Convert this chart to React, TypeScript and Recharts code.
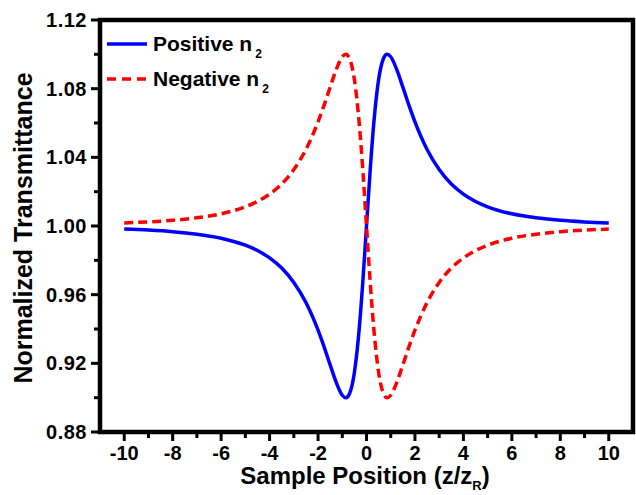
import { LineChart, Line, XAxis, YAxis, ReferenceArea, Legend } from 'recharts'

// sample position z/zR
const zPos = [
  -10, -9, -8, -7, -6, -5, -4.5, -4, -3.5, -3, -2.5, -2, -1.75, -1.5, -1.25, -1, -0.85, -0.7, -0.5, -0.3,
  -0.15, 0, 0.15, 0.3, 0.5, 0.7, 0.85, 1, 1.25, 1.5, 1.75, 2, 2.5, 3, 3.5, 4, 4.5, 5, 6, 7, 8, 9, 10,
]

// normalized transmittance, positive n2 (valley then peak)
const posN2 = [
  0.9982, 0.9976, 0.9967, 0.9952, 0.9929, 0.9888, 0.9857, 0.9814, 0.9755, 0.9671, 0.9554, 0.9393, 0.9296,
  0.9191, 0.9089, 0.9014, 0.8999, 0.9024, 0.9147, 0.9403, 0.9679, 1.0, 1.0321, 1.0597, 1.0853, 1.0976,
  1.1001, 1.0986, 1.0911, 1.0809, 1.0704, 1.0607, 1.0446, 1.0329, 1.0245, 1.0186, 1.0143, 1.0112, 1.0071,
  1.0048, 1.0033, 1.0024, 1.0018,
]

// normalized transmittance, negative n2 (peak then valley)
const negN2 = [
  1.0018, 1.0024, 1.0033, 1.0048, 1.0071, 1.0112, 1.0143, 1.0186, 1.0245, 1.0329, 1.0446, 1.0607, 1.0704,
  1.0809, 1.0911, 1.0986, 1.1001, 1.0976, 1.0853, 1.0597, 1.0321, 1.0, 0.9679, 0.9403, 0.9147, 0.9024,
  0.8999, 0.9014, 0.9089, 0.9191, 0.9296, 0.9393, 0.9554, 0.9671, 0.9755, 0.9814, 0.9857, 0.9888, 0.9929,
  0.9952, 0.9967, 0.9976, 0.9982,
]

const xTicks = [-10, -9, -8, -7, -6, -5, -4, -3, -2, -1, 0, 1, 2, 3, 4, 5, 6, 7, 8, 9, 10]
const yTicks = [0.88, 0.9, 0.92, 0.94, 0.96, 0.98, 1.0, 1.02, 1.04, 1.06, 1.08, 1.1, 1.12]

const data = zPos.map((z, i) => ({ z, pos: posN2[i], neg: negN2[i] }))

const FONT = '"Liberation Sans", Arial, sans-serif'
const FRAME = 4.5

function XTick({ x, y, payload }: any) {
  const v = payload.value
  const major = Math.round(v) % 2 === 0
  return (
    <g>
      <rect x={x - 1.5} y={y} width={3} height={major ? 9 : 6} fill="#000" />
      {major && (
        <text x={x} y={y + 21} dy="0.355em" textAnchor="middle" fontFamily={FONT} fontWeight="bold" fontSize={20} fill="#000" stroke="none">
          {v}
        </text>
      )}
    </g>
  )
}

function YTick({ x, y, payload }: any) {
  const v = payload.value
  const major = Math.round(v * 100) % 4 === 0
  const len = major ? 9 : 6
  return (
    <g>
      <rect x={x - len} y={y - 1.5} width={len} height={3} fill="#000" />
      {major && (
        <text x={x - 13} y={y} dy="0.355em" textAnchor="end" fontFamily={FONT} fontWeight="bold" fontSize={20} letterSpacing={0.5} fill="#000" stroke="none">
          {v.toFixed(2)}
        </text>
      )}
    </g>
  )
}

function LegendBox() {
  const row = { display: 'flex', alignItems: 'center', height: 35 }
  const txt = { fontFamily: FONT, fontWeight: 'bold' as const, fontSize: 21, color: '#000', marginLeft: 6, whiteSpace: 'nowrap' as const }
  const sub = { fontSize: 12, position: 'relative' as const, top: 7, marginLeft: 3 }
  return (
    <div>
      <div style={row}>
        <svg width={40} height={10}>
          <line x1={0} y1={5} x2={40} y2={5} stroke="#0000ff" strokeWidth={3.5} />
        </svg>
        <span style={txt}>
          Positive n<span style={sub}>2</span>
        </span>
      </div>
      <div style={row}>
        <svg width={40} height={10}>
          <line x1={0} y1={5} x2={40} y2={5} stroke="#ff0000" strokeWidth={3.5} strokeDasharray="9 6" />
        </svg>
        <span style={txt}>
          Negative n<span style={sub}>2</span>
        </span>
      </div>
    </div>
  )
}

export default function App() {
  return (
    <div style={{ position: 'absolute', left: 0, top: 0, width: 636, height: 495, background: '#fff' }}>
      <LineChart width={636} height={495} data={data} margin={{ top: 20, right: 3, bottom: 0, left: 0 }}>
        <XAxis
          dataKey="z"
          type="number"
          domain={[-11, 11]}
          ticks={xTicks}
          interval={0}
          height={63}
          tickLine={false}
          tickSize={0}
          tickMargin={0}
          axisLine={false}
          tick={<XTick />}
        />
        <YAxis
          type="number"
          domain={[0.88, 1.12]}
          ticks={yTicks}
          interval={0}
          width={100}
          tickLine={false}
          tickSize={0}
          tickMargin={0}
          axisLine={false}
          tick={<YTick />}
        />
        {/* plot frame */}
        <ReferenceArea
          x1={-11}
          x2={11}
          y1={0.88}
          y2={1.12}
          fill="none"
          fillOpacity={0}
          stroke="#000"
          strokeWidth={FRAME}
          strokeOpacity={1}
          ifOverflow="visible"
        />
        <Legend
          layout="vertical"
          verticalAlign="middle"
          align="center"
          content={<LegendBox />}
          wrapperStyle={{ left: 107, top: 26, width: 'auto' }}
        />
        <Line
          type="monotone"
          dataKey="pos"
          stroke="#0000ff"
          strokeWidth={3.5}
          dot={false}
          isAnimationActive={false}
        />
        <Line
          type="monotone"
          dataKey="neg"
          stroke="#ff0000"
          strokeWidth={3.5}
          strokeDasharray="9 5"
          dot={false}
          isAnimationActive={false}
        />
      </LineChart>
      <div
        style={{
          position: 'absolute',
          left: 365,
          top: 476,
          transform: 'translate(-50%, -50%)',
          fontFamily: FONT,
          fontWeight: 'bold',
          fontSize: 24,
          whiteSpace: 'nowrap',
          color: '#000',
        }}
      >
        Sample Position (z/z<span style={{ fontSize: 13, position: 'relative', top: 6 }}>R</span>)
      </div>
      <div
        style={{
          position: 'absolute',
          left: 23,
          top: 228,
          transform: 'translate(-50%, -50%) rotate(-90deg)',
          fontFamily: FONT,
          fontWeight: 'bold',
          fontSize: 25,
          whiteSpace: 'nowrap',
          color: '#000',
        }}
      >
        Normalized Transmittance
      </div>
    </div>
  )
}
